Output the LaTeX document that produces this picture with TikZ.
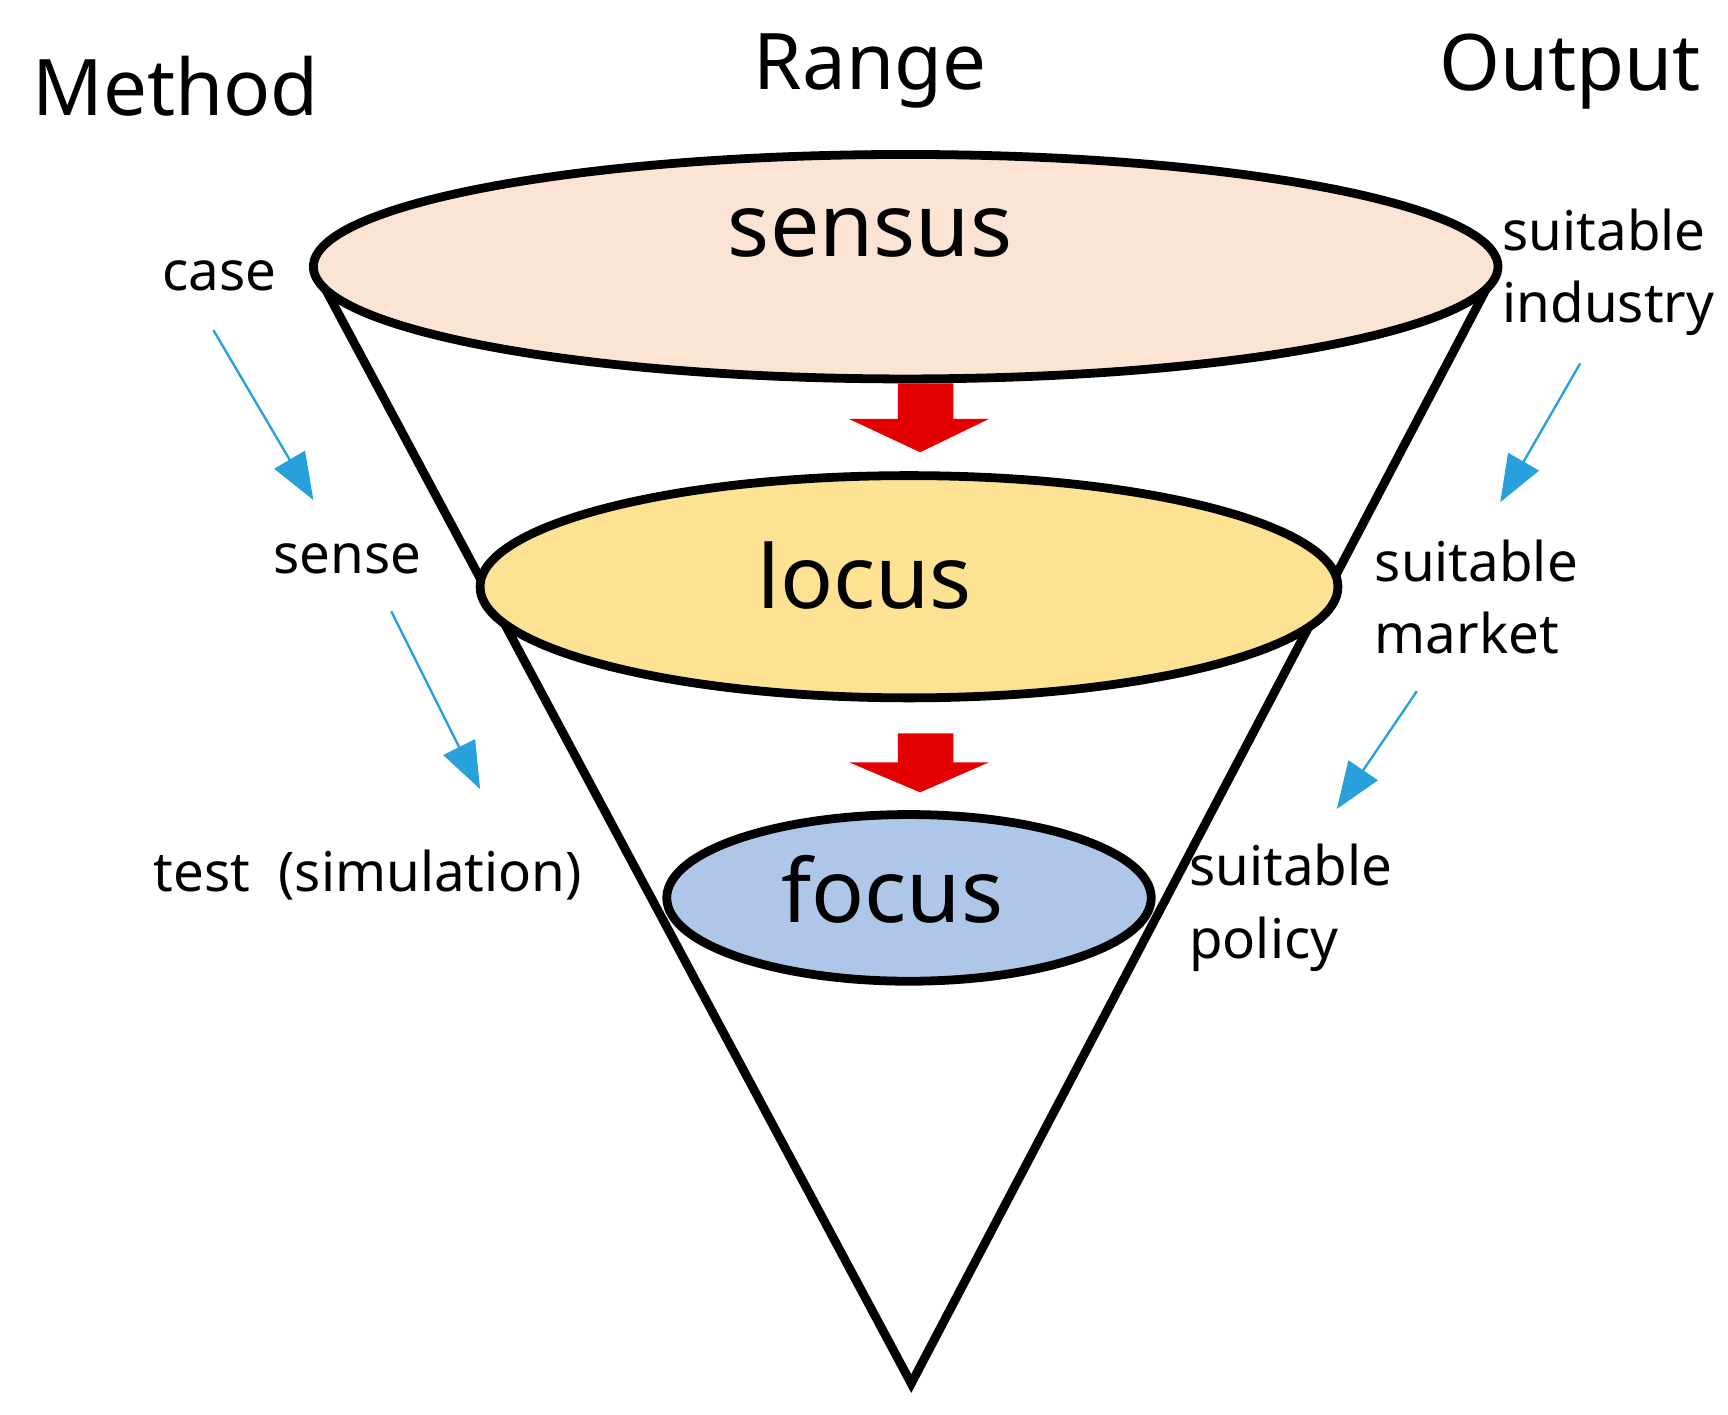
\documentclass[tikz,border=0pt]{standalone}
\usepackage{fontspec}
\setmainfont{Noto Sans}
\usetikzlibrary{arrows.meta,shapes.arrows}
\definecolor{fblue}{RGB}{174,199,232}
\definecolor{ablue}{RGB}{40,160,220}
\definecolor{lyel}{RGB}{252,226,146}
\definecolor{lpink}{RGB}{252,228,212}
\begin{document}
\begin{tikzpicture}[x=0.02cm,y=-0.02cm,
 big/.style={font=\fontsize{40}{46}\selectfont},
 mid/.style={font=\fontsize{45}{50}\selectfont},
 lab/.style={font=\fontsize{28}{37}\selectfont,align=left,anchor=west},
 ell/.style={draw=black,line width=4.5pt},
 blu/.style={draw=ablue,line width=1.2pt,-{Triangle[length=24pt,width=18pt]}},
 red/.style={fill=red!90!black,draw=none}]
\useasboundingbox (0,0) rectangle (1555,1273);
\coordinate (L) at (282,240); \coordinate (R) at (1348,240); \coordinate (B) at (820,1245);
\draw[line width=4.5pt,line join=miter] (L) -- (B) -- (R);
\draw[ell,fill=lpink] (815,240) ellipse [x radius=533,y radius=101];
\draw[ell,fill=lyel] (818,528) ellipse [x radius=386,y radius=100];
\draw[ell,fill=fblue] (818,808) ellipse [x radius=218,y radius=75];
\node[mid] (s) at (783,210) {sensus};
\node[mid] (l) at (778,518) {locus};
\node[mid] (f) at (803,800) {focus};
\fill[red] (808,345) -- (858,345) -- (858,377) -- (890,377) -- (828,407) -- (764,377) -- (808,377) -- cycle;
\fill[red] (808,660) -- (858,660) -- (858,686) -- (890,686) -- (828,713) -- (764,686) -- (808,686) -- cycle;
\node[big] (m) at (158,78) {Method};
\node[big] (r) at (783,64) {Range};
\node[big] (o) at (1413,64) {Output};
\node[lab] (c) at (140,248) {case};
\node[lab] (se) at (240,503) {sense};
\node[lab] (t) at (132,787) {test~~(simulation)};
\node[lab] (i) at (1346,245) {suitable\\industry};
\node[lab] (mk) at (1231,537) {suitable\\market};
\node[lab] (p) at (1064,817) {suitable\\policy};
\coordinate (a1) at (192,297); \coordinate (a2) at (282,450);
\coordinate (b1) at (352,550); \coordinate (b2) at (432,710);
\coordinate (c1) at (1422,327); \coordinate (c2) at (1350,452);
\coordinate (d1) at (1275,622); \coordinate (d2) at (1203,728);
\draw[blu] (a1) -- (a2); \draw[blu] (b1) -- (b2);
\draw[blu] (c1) -- (c2); \draw[blu] (d1) -- (d2);
\end{tikzpicture}
\end{document}
